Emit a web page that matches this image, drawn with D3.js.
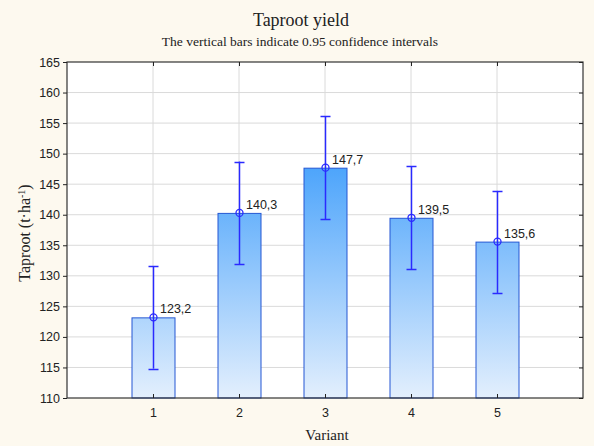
<!DOCTYPE html>
<html>
<head>
<meta charset="utf-8">
<script src="https://cdn.jsdelivr.net/npm/d3@7"></script>
<style>
  body { margin: 0; background: #fdf9ef; }
  svg { display: block; }
</style>
</head>
<body>
<svg width="594" height="446"></svg>
<script>
// data
let variants = [1, 2, 3, 4, 5];
let yieldMeans = [123.2, 140.3, 147.7, 139.5, 135.6];
let ciLow = [114.8, 131.9, 139.3, 131.1, 127.2];
let ciHigh = [131.6, 148.7, 156.1, 147.9, 143.9];
let yTicks = [110, 115, 120, 125, 130, 135, 140, 145, 150, 155, 160, 165];

let svg = d3.select("svg"),
    margin = {top: 62, right: 11, bottom: 48, left: 67},
    width = +svg.attr("width") - margin.left - margin.right,
    height = +svg.attr("height") - margin.top - margin.bottom;

svg.append("rect").attr("width", 594).attr("height", 446).attr("fill", "#fdf9ef");

let defs = svg.append("defs");

let g = svg.append("g").attr("transform", "translate(" + margin.left + "," + margin.top + ")");

let x = d3.scaleLinear().domain([0, 6]).range([0, width]);
let y = d3.scaleLinear().domain([110, 165]).range([height, 0]);

let grad = defs.append("linearGradient")
    .attr("id", "barGrad")
    .attr("gradientUnits", "userSpaceOnUse")
    .attr("x1", 0).attr("x2", 0)
    .attr("y1", y(150)).attr("y2", y(110));
grad.append("stop").attr("offset", "0%").attr("stop-color", "#44a0fb");
grad.append("stop").attr("offset", "100%").attr("stop-color", "#e3effd");

g.append("rect")
    .attr("width", width).attr("height", height)
    .attr("fill", "#fff");

// grid
g.append("g")
    .selectAll("line")
    .data(yTicks.slice(1, -1))
    .enter().append("line")
    .attr("x1", 0).attr("x2", width)
    .attr("y1", d => y(d)).attr("y2", d => y(d))
    .attr("stroke", "#dadada");

g.append("g")
    .selectAll("line")
    .data(variants)
    .enter().append("line")
    .attr("y1", 0).attr("y2", height)
    .attr("x1", d => x(d)).attr("x2", d => x(d))
    .attr("stroke", "#dadada");

let barW = x(1) - x(0.5);

g.append("g")
    .selectAll("rect")
    .data(variants)
    .enter().append("rect")
    .attr("x", d => x(d) - barW / 2 + 0.5)
    .attr("y", (d, i) => y(yieldMeans[i]) + 0.5)
    .attr("width", barW)
    .attr("height", (d, i) => y(110) - y(yieldMeans[i]) - 0.5)
    .attr("fill", "url(#barGrad)")
    .attr("stroke", "#2457d3")
    .attr("stroke-width", 1);

// error bars
let err = g.append("g")
    .selectAll("g")
    .data(variants)
    .enter().append("g")
    .attr("stroke", "#2a2aff")
    .attr("stroke-width", 1.5)
    .attr("fill", "none");

err.append("line")
    .attr("x1", d => x(d) + 0.5).attr("x2", d => x(d) + 0.5)
    .attr("y1", (d, i) => y(ciLow[i])).attr("y2", (d, i) => y(ciHigh[i]));

err.append("line")
    .attr("x1", d => x(d) - 4.5).attr("x2", d => x(d) + 5.5)
    .attr("y1", (d, i) => Math.round(y(ciLow[i])) + 0.5)
    .attr("y2", (d, i) => Math.round(y(ciLow[i])) + 0.5);

err.append("line")
    .attr("x1", d => x(d) - 4.5).attr("x2", d => x(d) + 5.5)
    .attr("y1", (d, i) => Math.round(y(ciHigh[i])) + 0.5)
    .attr("y2", (d, i) => Math.round(y(ciHigh[i])) + 0.5);

err.append("circle")
    .attr("cx", d => x(d) + 0.5)
    .attr("cy", (d, i) => y(yieldMeans[i]))
    .attr("r", 3.5)
    .attr("stroke-width", 1.3);

// value labels
g.append("g")
    .attr("font-family", "Liberation Sans, Arial, sans-serif")
    .attr("font-size", 12.5)
    .attr("fill", "#222")
    .selectAll("text")
    .data(variants)
    .enter().append("text")
    .attr("x", d => x(d) + 7)
    .attr("y", (d, i) => y(yieldMeans[i]) - 4)
    .text((d, i) => d3.format(".1f")(yieldMeans[i]).replace(".", ","));

// frame
g.append("rect")
    .attr("width", width).attr("height", height)
    .attr("fill", "none")
    .attr("stroke", "#333")
    .attr("stroke-width", 1.2);

// axes
g.append("g")
    .call(d3.axisLeft(y).tickValues(yTicks).tickSize(4).tickPadding(3));
g.append("g")
    .attr("transform", "translate(" + width + ",0)")
    .call(d3.axisLeft(y).tickValues(yTicks).tickSize(4).tickFormat(""));
g.append("g")
    .attr("transform", "translate(0," + height + ")")
    .call(d3.axisTop(x).tickValues(variants).tickSize(4).tickFormat(""));
g.append("g")
    .attr("transform", "translate(0," + height + ")")
    .call(d3.axisBottom(x).tickValues(variants).tickSize(0).tickPadding(10).tickFormat(d3.format("d")));
g.append("g")
    .call(d3.axisBottom(x).tickValues(variants).tickSize(4).tickFormat(""));

g.selectAll(".domain").remove();
g.selectAll(".tick line").attr("stroke", "#222");
g.selectAll(".tick text")
    .attr("font-family", "Liberation Sans, Arial, sans-serif")
    .attr("font-size", 12.5)
    .attr("fill", "#222");

// titles
svg.append("text")
    .attr("x", 301).attr("y", 26)
    .attr("text-anchor", "middle")
    .attr("font-family", "Liberation Serif, Times New Roman, serif")
    .attr("font-size", 18)
    .attr("fill", "#222")
    .text("Taproot yield");

svg.append("text")
    .attr("x", 300).attr("y", 46)
    .attr("text-anchor", "middle")
    .attr("font-family", "Liberation Serif, Times New Roman, serif")
    .attr("font-size", 13.5)
    .attr("fill", "#222")
    .text("The vertical bars indicate 0.95 confidence intervals");

svg.append("text")
    .attr("x", 327).attr("y", 440)
    .attr("text-anchor", "middle")
    .attr("font-family", "Liberation Serif, Times New Roman, serif")
    .attr("font-size", 15)
    .attr("fill", "#222")
    .text("Variant");

let yl = svg.append("text")
    .attr("transform", "translate(30,233) rotate(-90)")
    .attr("text-anchor", "middle")
    .attr("font-family", "Liberation Serif, Times New Roman, serif")
    .attr("font-size", 16)
    .attr("fill", "#222");
yl.append("tspan").text("Taproot (t·ha");
yl.append("tspan").attr("baseline-shift", "super").attr("font-size", 10).text("-1");
yl.append("tspan").text(")");
</script>
</body>
</html>
